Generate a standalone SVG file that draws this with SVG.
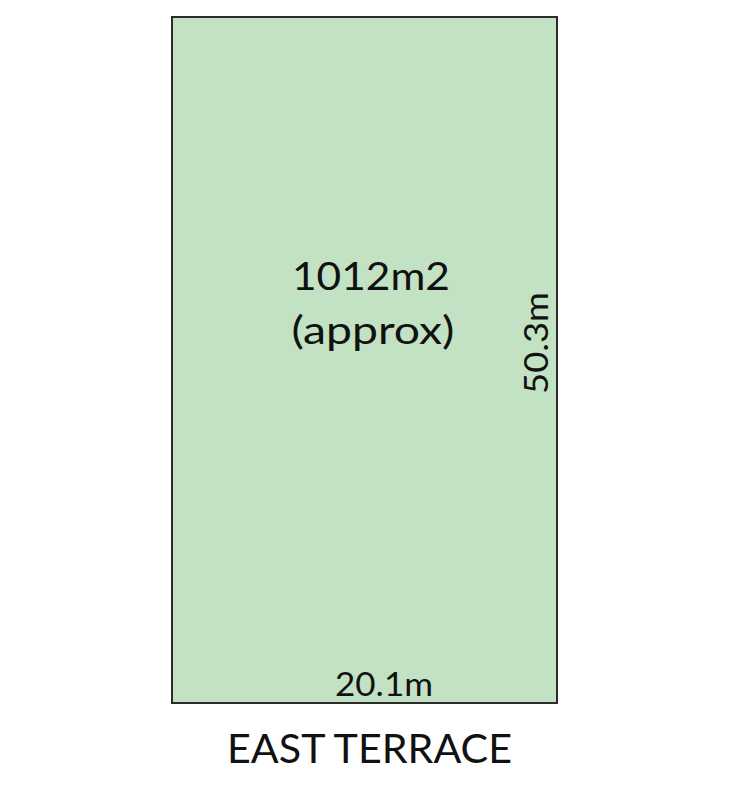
<svg xmlns="http://www.w3.org/2000/svg" width="750" height="795" viewBox="0 0 750 795">
<style>
.t{font-family:Lato,"Open Sans","Liberation Sans",sans-serif;fill:#111;}
</style>
<rect width="750" height="795" fill="#ffffff"/>
<g id="lot">
<rect x="172" y="17" width="385" height="686" fill="#C2E2C3" stroke="#2b2b2b" stroke-width="2"/>
<text class="t" x="371" y="290" font-size="39" text-anchor="middle" textLength="158" lengthAdjust="spacingAndGlyphs">1012m2</text>
<text class="t" x="373" y="344" font-size="39" text-anchor="middle" textLength="163" lengthAdjust="spacingAndGlyphs">(approx)</text>
<text class="t" transform="translate(548,343) rotate(-90)" x="0" y="0" font-size="32" text-anchor="middle" textLength="102" lengthAdjust="spacingAndGlyphs">50.3m</text>
<text class="t" x="384" y="696" font-size="32" text-anchor="middle" textLength="98" lengthAdjust="spacingAndGlyphs">20.1m</text>
</g>
<g id="street">
<text class="t" x="369.5" y="763" font-size="40" text-anchor="middle" textLength="285" lengthAdjust="spacingAndGlyphs">EAST TERRACE</text>
</g>
</svg>
